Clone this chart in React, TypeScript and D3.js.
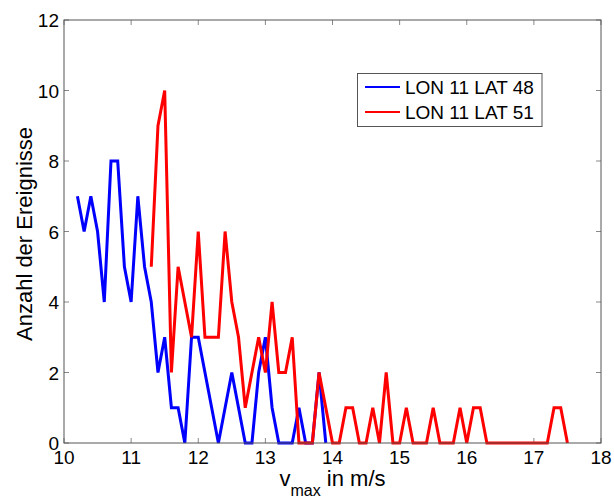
import React from "react";
import * as d3 from "d3";

const blueX0 = 10.2;
const blueValues = [7, 6, 7, 6, 4, 8, 8, 5, 4, 7, 5, 4, 2, 3, 1, 1, 0, 3, 3, 2, 1, 0, 1, 2, 1, 0, 0, 2, 3, 1, 0, 0, 0, 1, 0, 0, 2, 0];
const redX0 = 11.3;
const redValues = [5, 9, 10, 2, 5, 4, 3, 6, 3, 3, 3, 6, 4, 3, 1, 2, 3, 2, 4, 2, 2, 3, 0, 0, 0, 2, 1, 0, 0, 1, 1, 0, 0, 1, 0, 2, 0, 0, 1, 0, 0, 0, 1, 0, 0, 0, 1, 0, 1, 1, 0, 0, 0, 0, 0, 0, 0, 0, 0, 0, 1, 1, 0];
const xTicks = [10, 11, 12, 13, 14, 15, 16, 17, 18];
const yTicks = [0, 2, 4, 6, 8, 10, 12];
const seriesNames = ["LON 11 LAT 48", "LON 11 LAT 51"];
const seriesColors = ["#0000ff", "#ff0000"];

const W = 614, H = 498;
const L = 64, R = 601, T = 20, B = 443;

export default function App() {
  const x = d3.scaleLinear().domain([10, 18]).range([L, R]);
  const y = d3.scaleLinear().domain([0, 12]).range([B, T]);
  const mk = (x0: number, vals: number[]) =>
    vals.map((v, i) => [Math.round((x0 + i * 0.1) * 10) / 10, v] as [number, number]);
  const line = d3.line<[number, number]>().x(d => x(d[0])).y(d => y(d[1]));
  const series = [mk(blueX0, blueValues), mk(redX0, redValues)];
  const font = "Liberation Sans, Arial, sans-serif";
  const tl = 5;
  return (
    <svg width={W} height={H} style={{ position: "absolute", left: 0, top: 0, background: "#fff" }}>
      <rect x={0} y={0} width={W} height={H} fill="#fff" />
      {xTicks.map(t => (
        <g key={"x" + t}>
          <line x1={x(t)} x2={x(t)} y1={B} y2={B - tl} stroke="#888" />
          <line x1={x(t)} x2={x(t)} y1={T} y2={T + tl} stroke="#888" />
          <text x={x(t)} y={464} textAnchor="middle" fontFamily={font} fontSize={19}>{t}</text>
        </g>
      ))}
      {yTicks.map(t => (
        <g key={"y" + t}>
          <line x1={L} x2={L + tl} y1={y(t)} y2={y(t)} stroke="#888" />
          <line x1={R} x2={R - tl} y1={y(t)} y2={y(t)} stroke="#888" />
          <text x={L - 5} y={y(t) + 7} textAnchor="end" fontFamily={font} fontSize={19}>{t}</text>
        </g>
      ))}
      {series.map((s, i) => (
        <path key={i} d={line(s) || ""} fill="none" stroke={seriesColors[i]} strokeWidth={3} strokeLinejoin="miter" />
      ))}
      <rect x={L} y={T} width={R - L} height={B - T} fill="none" stroke="#555" strokeWidth={1} />
      <g>
        <rect x={357.5} y={73.5} width={184.5} height={53} fill="#fff" stroke="#555" />
        {seriesNames.map((n, i) => (
          <g key={n}>
            <line x1={365} x2={400} y1={87 + i * 25} y2={87 + i * 25} stroke={seriesColors[i]} strokeWidth={2} />
            <text x={405} y={87 + i * 25 + 7.3} fontFamily={font} fontSize={19}>{n}</text>
          </g>
        ))}
      </g>
      <text transform={`translate(31.5,234) rotate(-90)`} textAnchor="middle" fontFamily={font} fontSize={22}>Anzahl der Ereignisse</text>
      <text x={(L + R) / 2} y={486} textAnchor="middle" fontFamily={font} fontSize={22}>
        v<tspan fontSize={16} dy={10}>max</tspan><tspan dy={-10}> in m/s</tspan>
      </text>
    </svg>
  );
}
